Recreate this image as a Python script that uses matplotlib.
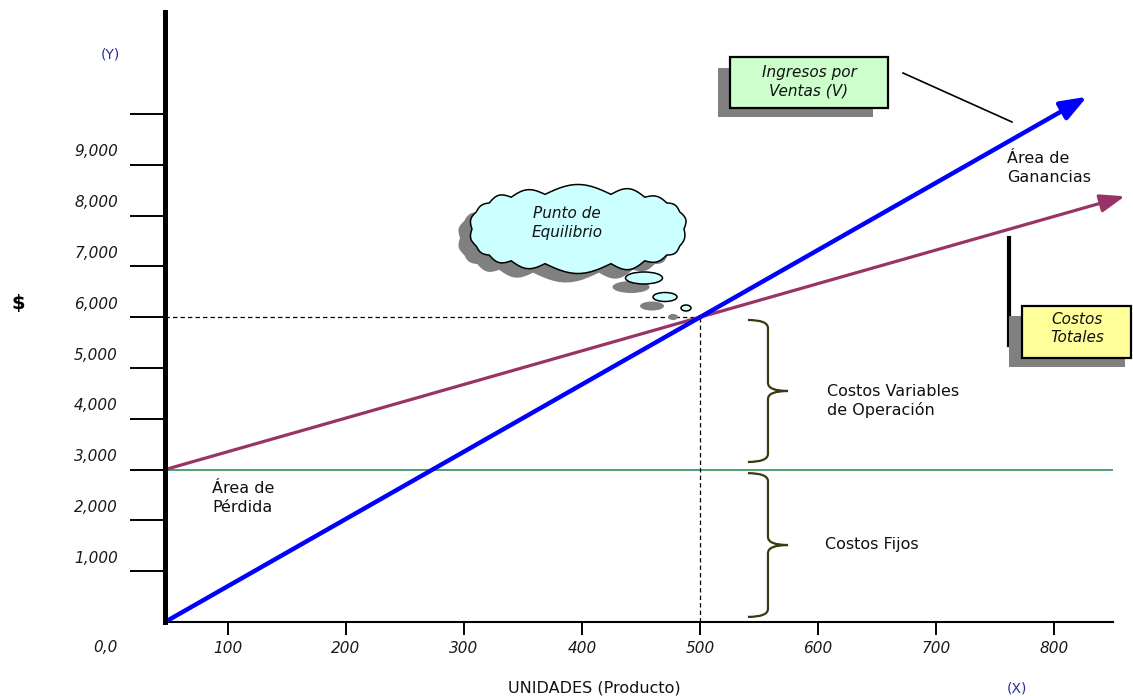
import numpy as np
import matplotlib
matplotlib.use("Agg")
import matplotlib.pyplot as plt
from matplotlib.patches import Rectangle, Ellipse, Polygon, PathPatch
from matplotlib.path import Path
from matplotlib.transforms import blended_transform_factory, ScaledTranslation

# ---------------- data ----------------
axis_start_units = 46.6          # first unit value at the vertical axis
axis_end_units = 850
break_even_units = 500
break_even_value = 6000
fixed_costs = 3000

revenue_x = [46.6, 500, 828]
revenue_y = [0, 6000, 10340]
total_cost_x = [46.6, 500, 860]
total_cost_y = [3000, 6000, 8380]

x_ticks = [100, 200, 300, 400, 500, 600, 700, 800]
x_tick_labels = ["100", "200", "300", "400", "500", "600", "700", "800"]
y_ticks = [1000, 2000, 3000, 4000, 5000, 6000, 7000, 8000, 9000, 10000]
y_tick_labels = ["1,000", "2,000", "3,000", "4,000", "5,000",
                 "6,000", "7,000", "8,000", "9,000", ""]

# ---------------- figure ----------------
W, H = 1133, 696
DPI = 100
fig = plt.figure(figsize=(W / DPI, H / DPI), dpi=DPI)
fig.patch.set_facecolor("white")

x_max = 865
y_max = 12000
left_px, bottom_px = 165, 622
right_px = 110 + 1.18 * x_max
top_px = bottom_px - 0.0508 * y_max
ax = fig.add_axes([left_px / W, (H - bottom_px) / H,
                   (right_px - left_px) / W, (bottom_px - top_px) / H])
ax.set_xlim(axis_start_units, x_max)
ax.set_ylim(0, y_max)
ax.patch.set_alpha(0)

for s in ("top", "right"):
    ax.spines[s].set_visible(False)
ax.spines["left"].set_linewidth(3.6)
ax.spines["bottom"].set_linewidth(1.5)
ax.spines["bottom"].set_bounds(axis_start_units, axis_end_units)
ax.spines["left"].set_zorder(6)

label_font = dict(family="DejaVu Sans", size=11, style="italic", color="#1a1a1a")

ax.set_xticks(x_ticks)
ax.set_xticklabels(x_tick_labels, **label_font)
ax.tick_params(axis="x", direction="out", length=9.5, width=1.4, pad=4)

ax.set_yticks(y_ticks)
ax.set_yticklabels([])
ax.tick_params(axis="y", direction="out", length=25, width=1.4)

ylab_tr = blended_transform_factory(ax.transAxes, ax.transData) + \
    ScaledTranslation(-47 / DPI, 13 / DPI, fig.dpi_scale_trans)
for v, lab in zip(y_ticks, y_tick_labels):
    ax.text(0, v, lab, transform=ylab_tr, ha="right", va="center", **label_font)
zero_tr = blended_transform_factory(ax.transAxes, ax.transData) + \
    ScaledTranslation(-47 / DPI, -26 / DPI, fig.dpi_scale_trans)
ax.text(0, 0, "0,0", transform=zero_tr, ha="right", va="center", **label_font)

# fixed costs
ax.plot([axis_start_units, axis_end_units], [fixed_costs, fixed_costs],
        color="#4f9f74", lw=1.4, zorder=2, solid_capstyle="butt")

# break-even guides
ax.plot([axis_start_units, break_even_units], [break_even_value, break_even_value],
        color="black", lw=0.9, ls=(0, (3.5, 2.5)), zorder=2)
ax.plot([break_even_units, break_even_units], [0, break_even_value],
        color="black", lw=0.9, ls=(0, (3.5, 2.5)), zorder=2)

# total costs and revenue lines with arrow heads
ax.plot(total_cost_x[:-1], total_cost_y[:-1], color="#993366", lw=2.3,
        solid_capstyle="butt", zorder=3)
ax.annotate("", xy=(total_cost_x[-1], total_cost_y[-1]),
            xytext=(total_cost_x[-2], total_cost_y[-2]),
            arrowprops=dict(arrowstyle="-|>,head_length=1.5,head_width=0.55",
                            color="#993366", lw=2.3, shrinkA=0, shrinkB=0,
                            mutation_scale=10), zorder=3)
ax.plot(revenue_x[:-1], revenue_y[:-1], color="#0000ff", lw=3.2,
        solid_capstyle="butt", zorder=4)
ax.annotate("", xy=(revenue_x[-1], revenue_y[-1]),
            xytext=(revenue_x[-2], revenue_y[-2]),
            arrowprops=dict(arrowstyle="-|>,head_length=1.6,head_width=0.6",
                            color="#0000ff", lw=3.2, shrinkA=0, shrinkB=0,
                            mutation_scale=10), zorder=4)


# curly braces for the two cost blocks
def brace(ax, xc, ytop, ybot, curl_w=17, tip_w=17, h=160, color="#3a3a12"):
    xl, xt = xc - curl_w, xc + tip_w
    ym = (ytop + ybot) / 2
    verts = [(xl, ytop), (xc, ytop), (xc, ytop - h),
             (xc, ym + h), (xc, ym), (xt, ym),
             (xc, ym), (xc, ym - h),
             (xc, ybot + h), (xc, ybot), (xl, ybot)]
    codes = [Path.MOVETO, Path.CURVE3, Path.CURVE3,
             Path.LINETO, Path.CURVE3, Path.CURVE3,
             Path.CURVE3, Path.CURVE3,
             Path.LINETO, Path.CURVE3, Path.CURVE3]
    ax.add_patch(PathPatch(Path(verts, codes), fill=False, ec=color, lw=1.6,
                           zorder=3))


brace(ax, 557.6, break_even_value - 55, fixed_costs + 150)
brace(ax, 557.6, fixed_costs - 70, 100)

# ---------------- annotation layer (pixel coordinates) ----------------
ov = fig.add_axes([0, 0, 1, 1], zorder=5)
ov.set_xlim(0, W)
ov.set_ylim(H, 0)
ov.axis("off")
ov.patch.set_alpha(0)

plain = dict(family="DejaVu Sans", size=11.5, color="#111111")
ital = dict(family="DejaVu Sans", size=11, style="italic", color="#111111")

ov.text(110, 55, "(Y)", ha="center", va="center", family="DejaVu Sans",
        size=10, color="#2b2b9a")
ov.text(1017, 688, "(X)", ha="center", va="center", family="DejaVu Sans",
        size=10, color="#2b2b9a")
ov.text(18, 303, "$", ha="center", va="center", family="DejaVu Sans",
        size=14, weight="bold", color="black")
ov.text(594, 688, "UNIDADES (Producto)", ha="center", va="center", **plain)

ov.text(212, 498, "Área de\nPérdida", ha="left", va="center",
        linespacing=1.35, **plain)
ov.text(1007, 168, "Área de\nGanancias", ha="left", va="center",
        linespacing=1.35, **plain)
ov.text(827, 401, "Costos Variables\nde Operación", ha="left", va="center",
        linespacing=1.25, **plain)
ov.text(825, 545, "Costos Fijos", ha="left", va="center", **plain)

# sales revenue callout
ov.add_patch(Rectangle((718, 68), 155, 49, fc="#808080", ec="none", zorder=1))
ov.add_patch(Rectangle((730, 57), 158, 51, fc="#ccffcc", ec="black", lw=1.6,
                       zorder=2))
ov.text(809, 82, "Ingresos por\nVentas (V)", ha="center", va="center",
        linespacing=1.25, zorder=3, **ital)
ov.plot([903, 1012], [73, 122], color="black", lw=1.2)

# total costs callout
ov.plot([1009, 1009], [238, 345], color="black", lw=3, zorder=1)
ov.add_patch(Rectangle((1009, 316), 116, 51, fc="#808080", ec="none", zorder=1))
ov.add_patch(Rectangle((1022, 306), 109, 52, fc="#ffff99", ec="black", lw=1.6,
                       zorder=2))
ov.text(1077, 328, "Costos\nTotales", ha="center", va="center",
        linespacing=1.25, zorder=3, **ital)


# thought cloud for the break-even point
def cloud_outline(cx, cy, a, b, bumps, p=3.0):
    n = len(bumps)
    ang = np.linspace(np.pi, 3 * np.pi, n + 1)
    c, s = np.cos(ang), np.sin(ang)
    px = cx + a * np.sign(c) * np.abs(c) ** (2 / p)
    py = cy + b * np.sign(s) * np.abs(s) ** (2 / p)
    pts = []
    t = np.linspace(0, 1, 14)
    for i in range(n):
        p0 = np.array([px[i], py[i]])
        p1 = np.array([px[i + 1], py[i + 1]])
        d = p1 - p0
        nrm = np.array([d[1], -d[0]]) / np.hypot(*d)
        mid = (p0 + p1) / 2
        if np.dot(nrm, mid - np.array([cx, cy])) < 0:
            nrm = -nrm
        seg = p0[None, :] + t[:, None] * d[None, :] + \
            nrm[None, :] * (bumps[i] * np.hypot(*d) * np.sin(np.pi * t))[:, None]
        pts.append(seg[:-1])
    return np.vstack(pts)


bump_sizes = [0.20, 0.16, 0.22, 0.18, 0.15, 0.21, 0.17, 0.19, 0.23, 0.16,
              0.20, 0.18, 0.22, 0.15, 0.19, 0.21, 0.17, 0.20]
cloud = cloud_outline(578, 229, 106, 35, bump_sizes)
ov.add_patch(Polygon(cloud + np.array([-12, 9]), closed=True, fc="#808080",
                     ec="none", zorder=1))
ov.add_patch(Polygon(cloud, closed=True, fc="#ccffff", ec="black", lw=1.1,
                     zorder=2))
ov.text(567, 223, "Punto de\nEquilibrio", ha="center", va="center",
        linespacing=1.3, zorder=3, **ital)

for (x, y, w, h) in [(644, 278, 37, 12), (665, 297, 24, 9), (686, 308, 10, 6)]:
    ov.add_patch(Ellipse((x - 13, y + 9), w, h, fc="#808080", ec="none",
                         zorder=1))
    ov.add_patch(Ellipse((x, y), w, h, fc="#ccffff", ec="black", lw=1.1,
                         zorder=2))

fig.savefig("out.png", dpi=DPI, facecolor="white")
